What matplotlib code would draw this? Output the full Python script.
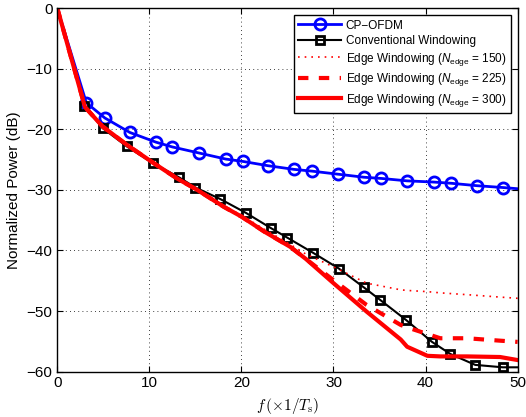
import matplotlib
matplotlib.use("Agg")
import matplotlib.pyplot as plt
from matplotlib.font_manager import FontProperties

plt.rcParams["font.family"] = "Liberation Sans"
plt.rcParams["mathtext.fontset"] = "custom"
plt.rcParams["mathtext.rm"] = "Liberation Sans"
plt.rcParams["mathtext.it"] = "Liberation Sans:italic"

# CP-OFDM (blue, circle markers)
cp_x = [0, 3.15, 5.15, 7.87, 10.7, 12.5, 15.4, 18.3, 20.2, 22.9, 25.7, 27.7,
        30.5, 33.3, 35.2, 38.0, 40.9, 42.8, 45.6, 48.4, 50]
cp_y = [0, -15.6, -18.1, -20.5, -22.1, -22.9, -23.9, -24.9, -25.3, -26.0, -26.6,
        -26.9, -27.4, -27.9, -28.1, -28.5, -28.7, -28.9, -29.3, -29.6, -29.8]

# Conventional windowing (black, square markers)
cw_x = [0, 2.93, 4.93, 7.54, 10.4, 13.2, 15.0, 17.7, 20.5, 23.2, 25.0, 27.8,
        30.6, 33.3, 35.1, 37.9, 40.7, 42.7, 45.4, 48.4, 50]
cw_y = [0, -16.1, -19.8, -22.8, -25.6, -27.9, -29.6, -31.5, -33.8, -36.3, -37.9,
        -40.4, -43.0, -46.1, -48.2, -51.5, -55.1, -57.1, -58.9, -59.3, -59.3]

# Edge windowing, N_edge = 150 / 225 / 300
ew_x = [0, 3.0, 4.9, 7.6, 10.5, 13.0, 15.2, 18.1, 20.0, 22.5, 25.3, 27.0,
        30.0, 33.6, 37.3, 38.0, 40.2, 41.6, 44.5, 48.1, 50]
ew150_y = [0, -16.3, -19.5, -22.6, -25.6, -28.0, -29.9, -32.6, -34.2, -36.5,
           -39.0, -40.6, -42.7, -45.4, -46.5, -46.6, -46.8, -47.0, -47.3, -47.7, -47.9]
ew225_y = [0, -16.3, -19.5, -22.6, -25.6, -28.1, -30.0, -32.8, -34.4, -36.9,
           -39.4, -41.4, -44.9, -49.0, -52.3, -52.7, -53.8, -54.5, -54.5, -54.9, -55.1]
ew300_y = [0, -16.3, -19.5, -22.6, -25.6, -28.1, -30.0, -32.8, -34.4, -36.9,
           -39.4, -41.4, -45.4, -50.1, -54.7, -55.9, -57.4, -57.5, -57.5, -57.6, -58.1]

labels = ["CP\u2212OFDM", "Conventional Windowing",
          r"Edge Windowing ($N_{\mathrm{edge}}$ = 150)",
          r"Edge Windowing ($N_{\mathrm{edge}}$ = 225)",
          r"Edge Windowing ($N_{\mathrm{edge}}$ = 300)"]

fig = plt.figure(figsize=(5.26, 4.17), dpi=100)
ax = fig.add_axes([0.109, 0.109, 0.875, 0.871])

ax.plot(cp_x, cp_y, color="blue", lw=2, marker="o", ms=8, mfc="none", mew=2,
        markevery=list(range(1, len(cp_x) - 1)), label=labels[0])
ax.plot(cw_x, cw_y, color="black", lw=1.5, marker="s", ms=6, mfc="none", mew=2,
        markevery=list(range(1, len(cw_x) - 1)), label=labels[1])
ax.plot(ew_x, ew150_y, color="red", lw=1.2, ls=(0, (1, 3)), label=labels[2])
ax.plot(ew_x, ew225_y, color="red", lw=3, ls=(0, (2.5, 2.5)), label=labels[3])
ax.plot(ew_x, ew300_y, color="red", lw=3, ls="-", label=labels[4])

ax.set_xlim(0, 50)
ax.set_ylim(-60, 0)
ax.set_xticks(range(0, 51, 10))
ax.set_yticks(range(-60, 1, 10))
ax.grid(True, color="black", ls=(0, (1, 4)), lw=0.6)
ax.tick_params(direction="in", top=True, right=True, labelsize=11, length=4)
for s in ax.spines.values():
    s.set_linewidth(1)

ax.set_xlabel(r"$f\,(\times 1/T_{\mathrm{s}})$", fontsize=11, math_fontfamily="cm")
ax.set_ylabel("Normalized Power (dB)", fontsize=11)

leg_font = FontProperties(family="Liberation Sans", size=8.5)
leg = ax.legend(loc="upper right", prop=leg_font, frameon=True, fancybox=False,
                edgecolor="black", framealpha=1, handlelength=3.6,
                borderpad=0.35, labelspacing=0.3, handletextpad=0.4,
                borderaxespad=0.6)
leg.get_frame().set_linewidth(1)

fig.savefig("out.png", dpi=100)
